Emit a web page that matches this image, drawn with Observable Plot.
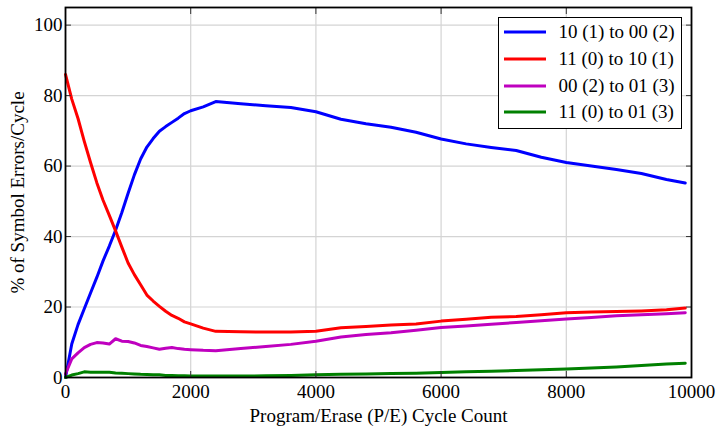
<!DOCTYPE html>
<html>
<head>
<meta charset="utf-8">
<script src="https://cdn.jsdelivr.net/npm/d3@7"></script>
<script src="https://cdn.jsdelivr.net/npm/@observablehq/plot@0.6"></script>
<style>
  html, body { margin: 0; padding: 0; background: #fff; }
  body, svg, svg text, #legend, .row, .row span { font-family: 'Liberation Serif' !important; }
  #wrap { position: relative; width: 717px; height: 426px; }
  #legend { position: absolute; left: 498px; top: 17px; width: 182px; height: 110px; border: 1.5px solid #000; background: #fff; }
  .row { position: absolute; left: 0; height: 22px; display: flex; align-items: center; font-size: 19px; color: #000; white-space: nowrap; }
  .row svg { margin-left: 4.5px; margin-right: 13px; }
</style>
</head>
<body>
<div id="wrap"><div id="chart"></div><div id="legend"></div></div>
<script>
const cycles = [0,100,200,300,400,500,600,700,800,900,1000,1100,1200,1300,1400,1500,1600,1700,1800,1900,2000,2200,2400,2800,3200,3600,4000,4400,4800,5200,5600,6000,6400,6800,7200,7600,8000,8400,8800,9200,9600,9900];
const s10to00 = [0,9.5,15,19.5,24,28.4,33.1,37.3,41.8,46.8,52.3,57.5,62,65.4,67.8,69.9,71.2,72.4,73.6,74.9,75.7,76.8,78.3,77.7,77.1,76.6,75.4,73.3,72.0,71.0,69.6,67.7,66.3,65.3,64.4,62.5,61.0,60.0,59.0,57.9,56.2,55.2];
const s11to10 = [86,79,73.5,67,61,55.3,50.3,46,41.6,37,32.5,29.2,26.3,23.4,21.7,20.2,18.8,17.6,16.8,15.8,15.2,14.0,13.1,13.0,12.9,12.9,13.1,14.1,14.5,14.9,15.2,16.0,16.5,17.1,17.3,17.8,18.4,18.6,18.7,18.9,19.2,19.7];
const s00to01 = [1,5.3,7,8.5,9.4,9.9,9.8,9.5,11.0,10.3,10.2,9.8,9.1,8.8,8.4,8.0,8.3,8.5,8.2,8.0,7.9,7.7,7.6,8.2,8.8,9.4,10.3,11.5,12.2,12.7,13.4,14.2,14.6,15.1,15.6,16.1,16.6,17.0,17.5,17.8,18.1,18.4];
const s11to01 = [0,0.7,1.1,1.6,1.5,1.5,1.5,1.5,1.3,1.2,1.1,1.0,0.9,0.85,0.8,0.75,0.6,0.55,0.5,0.5,0.45,0.4,0.4,0.4,0.5,0.6,0.8,0.9,1.0,1.1,1.2,1.4,1.6,1.8,2.0,2.2,2.4,2.7,3.0,3.4,3.8,4.05];
const seriesNames = ["10 (1) to 00 (2)", "11 (0) to 10 (1)", "00 (2) to 01 (3)", "11 (0) to 01 (3)"];
const seriesColors = ["#0000ff", "#ff0000", "#bf00bf", "#008000"];
const xTicks = [0,2000,4000,6000,8000,10000];
const yTicks = [0,20,40,60,80,100];
const xLabel = "Program/Erase (P/E) Cycle Count";
const yLabel = "% of Symbol Errors/Cycle";

const allSeries = [s10to00, s11to10, s00to01, s11to01];
const rows = [];
allSeries.forEach((vals, k) => vals.forEach((v, i) => rows.push({x: cycles[i], y: v, s: seriesNames[k]})));

const font = "Liberation Serif";
const fs = 19;
const chart = Plot.plot({
  width: 717, height: 426,
  marginLeft: 65, marginRight: 26, marginTop: 7, marginBottom: 49,
  style: {fontFamily: font, fontSize: fs + "px", color: "#000", background: "#fff"},
  x: {domain: [0, 10000]},
  y: {domain: [0, 105]},
  color: {domain: seriesNames, range: seriesColors},
  marks: [
    Plot.gridX(xTicks, {stroke: "#d4d4d4", strokeOpacity: 1, strokeWidth: 1.2}),
    Plot.gridY(yTicks, {stroke: "#d4d4d4", strokeOpacity: 1, strokeWidth: 1.2}),
    Plot.line(rows, {x: "x", y: "y", z: "s", stroke: "s", strokeWidth: 3, curve: "linear"}),
    Plot.axisX(xTicks, {anchor: "bottom", tickSize: -6, tickPadding: 13, label: null, tickFormat: d => String(d), stroke: "#333", fill: "#000", fontSize: fs, fontFamily: font}),
    Plot.axisX(xTicks, {anchor: "top", tickSize: -6, label: null, text: null, stroke: "#333"}),
    Plot.axisY(yTicks, {anchor: "left", tickSize: -6, tickPadding: 9, label: null, tickFormat: d => String(d), stroke: "#333", fill: "#000", fontSize: fs, fontFamily: font}),
    Plot.axisY(yTicks, {anchor: "right", tickSize: -6, label: null, text: null, stroke: "#333"}),
    Plot.frame({stroke: "#000", strokeWidth: 1.8}),
    Plot.text([xLabel], {frameAnchor: "bottom", dy: 38, lineAnchor: "middle", textAnchor: "middle", fontSize: fs, fill: "#000", fontFamily: font}),
    Plot.text([yLabel], {frameAnchor: "left", dx: -48, rotate: -90, lineAnchor: "middle", textAnchor: "middle", fontSize: fs, fill: "#000", fontFamily: font})
  ]
});
document.getElementById("chart").appendChild(chart);

const legend = document.getElementById("legend");
seriesNames.forEach((name, i) => {
  const row = document.createElement("div");
  row.className = "row";
  row.style.top = (3 + i * 26.8) + "px";
  row.innerHTML = `<svg width="42" height="6"><line x1="0" y1="3" x2="42" y2="3" stroke="${seriesColors[i]}" stroke-width="3"/></svg><span>${name}</span>`;
  legend.appendChild(row);
});
</script>
</body>
</html>
